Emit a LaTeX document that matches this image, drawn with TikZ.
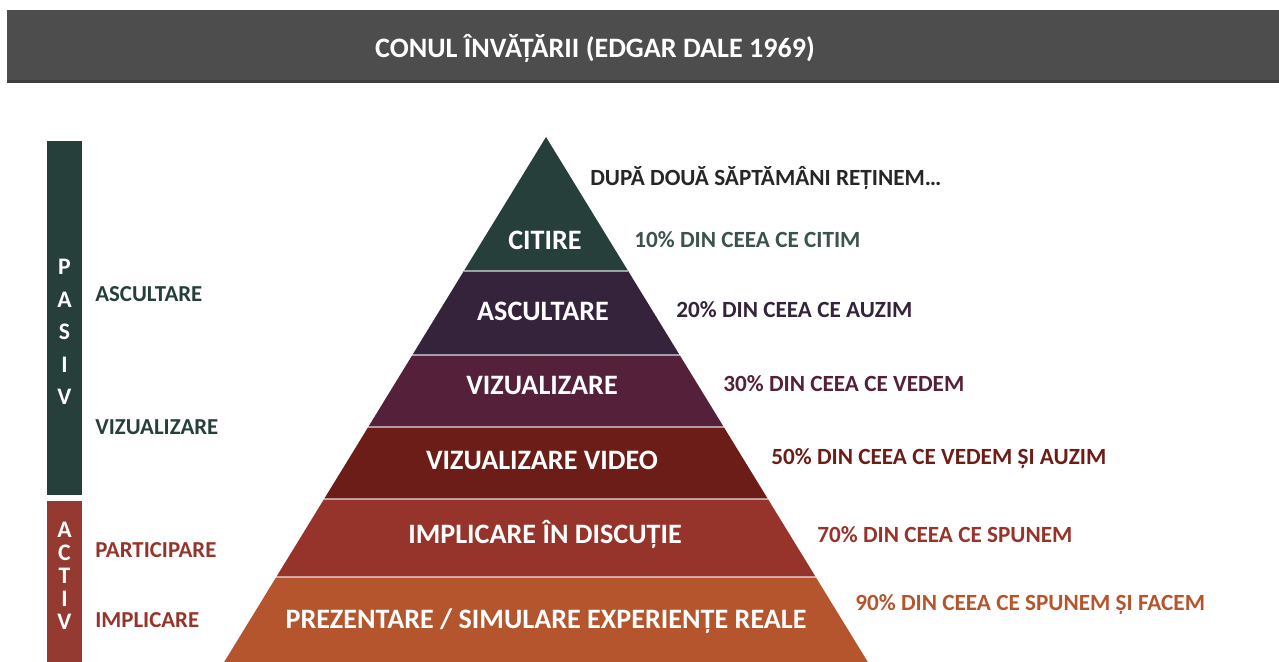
\documentclass[tikz,border=0pt]{standalone}
\usepackage{fontspec}
\setmainfont{Carlito}
\usepackage{tikz}
\usetikzlibrary{positioning}

\definecolor{cbar}{HTML}{4D4D4D}
\definecolor{cgreen}{HTML}{263F3A}
\definecolor{cpurple}{HTML}{35233C}
\definecolor{cplum}{HTML}{55213A}
\definecolor{cdred}{HTML}{6C1D17}
\definecolor{cred}{HTML}{96342B}
\definecolor{corange}{HTML}{B4552D}
\definecolor{cactiv}{HTML}{953A30}

\begin{document}
\begin{tikzpicture}[x=0.02cm,y=-0.02cm,
  band/.style={text=white,font=\fontsize{16}{19}\selectfont\bfseries,inner sep=0pt},
  note/.style={anchor=west,inner sep=0pt,font=\fontsize{13.2}{16}\selectfont\bfseries},
  side/.style={anchor=west,inner sep=0pt,font=\fontsize{13}{16}\selectfont\bfseries},
  vletter/.style={text=white,inner sep=0pt,font=\fontsize{13.5}{16}\selectfont\bfseries}]
 \useasboundingbox (0,0) rectangle (1279,662);
 % title bar
 \fill[cbar] (7,10) rectangle (1279,83);
 \fill[cbar!80!black] (7,80) rectangle (1279,83);
 \node[text=white,font=\fontsize{16}{19}\selectfont\bfseries] (title) at (595,48)
   {CONUL ÎNVĂȚĂRII (EDGAR DALE 1969)};

 % pyramid bands
 \foreach \t/\b/\c in {137/271/cgreen,271/355/cpurple,355/427/cplum,
                       427/499/cdred,499/577/cred,577/662/corange}{
   \fill[\c] ({546-0.613*(\t-137)},\t) -- ({546+0.613*(\t-137)},\t)
     -- ({546+0.613*(\b-137)},\b) -- ({546-0.613*(\b-137)},\b) -- cycle;}
 \foreach \y in {271,355,427,499,577}{
   \draw[white,opacity=0.55,line width=0.9pt]
     ({546-0.613*(\y-137)},\y) -- ({546+0.613*(\y-137)},\y);}

 \node[band] (citire) at (545,240) {CITIRE};
 \node[band] (ascultare) at (543,311) {ASCULTARE};
 \node[band] (vizual) at (542,385) {VIZUALIZARE};
 \node[band] (video) at (542,460) {VIZUALIZARE VIDEO};
 \node[band] (discutie) at (545,534) {IMPLICARE ÎN DISCUȚIE};
 \node[band] (prezentare) at (546,621) {PREZENTARE / SIMULARE EXPERIENȚE REALE};

 % right notes
 \node[note,text=black!85] (retinem) at (590,178) {DUPĂ DOUĂ SĂPTĂMÂNI REȚINEM…};
 \node[note,text=cgreen!90!white] (p10) at (634,240) {10\% DIN CEEA CE CITIM};
 \node[note,text=cpurple] (p20) at (676,310) {20\% DIN CEEA CE AUZIM};
 \node[note,text=cplum] (p30) at (723,384) {30\% DIN CEEA CE VEDEM};
 \node[note,text=cdred] (p50) at (771,459) {50\% DIN CEEA CE VEDEM ȘI AUZIM};
 \node[note,text=cred] (p70) at (817,535) {70\% DIN CEEA CE SPUNEM};
 \node[note,text=corange] (p90) at (855,605) {90\% DIN CEEA CE SPUNEM ȘI FACEM};

 % left bars
 \fill[cgreen] (47,141) rectangle (82,495);
 \fill[cactiv] (47,501) rectangle (82,662);
 \foreach \l [count=\i] in {P,A,S,I,V}
   \node[vletter] (pasiv\i) at (64.5,{267+32.5*(\i-1)}) {\l};
 \foreach \l [count=\i] in {A,C,T,I,V}
   \node[vletter] (activ\i) at (64.5,{530+23*(\i-1)}) {\l};

 \node[side,text=cgreen] (sasc) at (95,294) {ASCULTARE};
 \node[side,text=cgreen] (sviz) at (95,427) {VIZUALIZARE};
 \node[side,text=cred] (spart) at (95,550) {PARTICIPARE};
 \node[side,text=cred] (simpl) at (95,620) {IMPLICARE};
\end{tikzpicture}
\end{document}
